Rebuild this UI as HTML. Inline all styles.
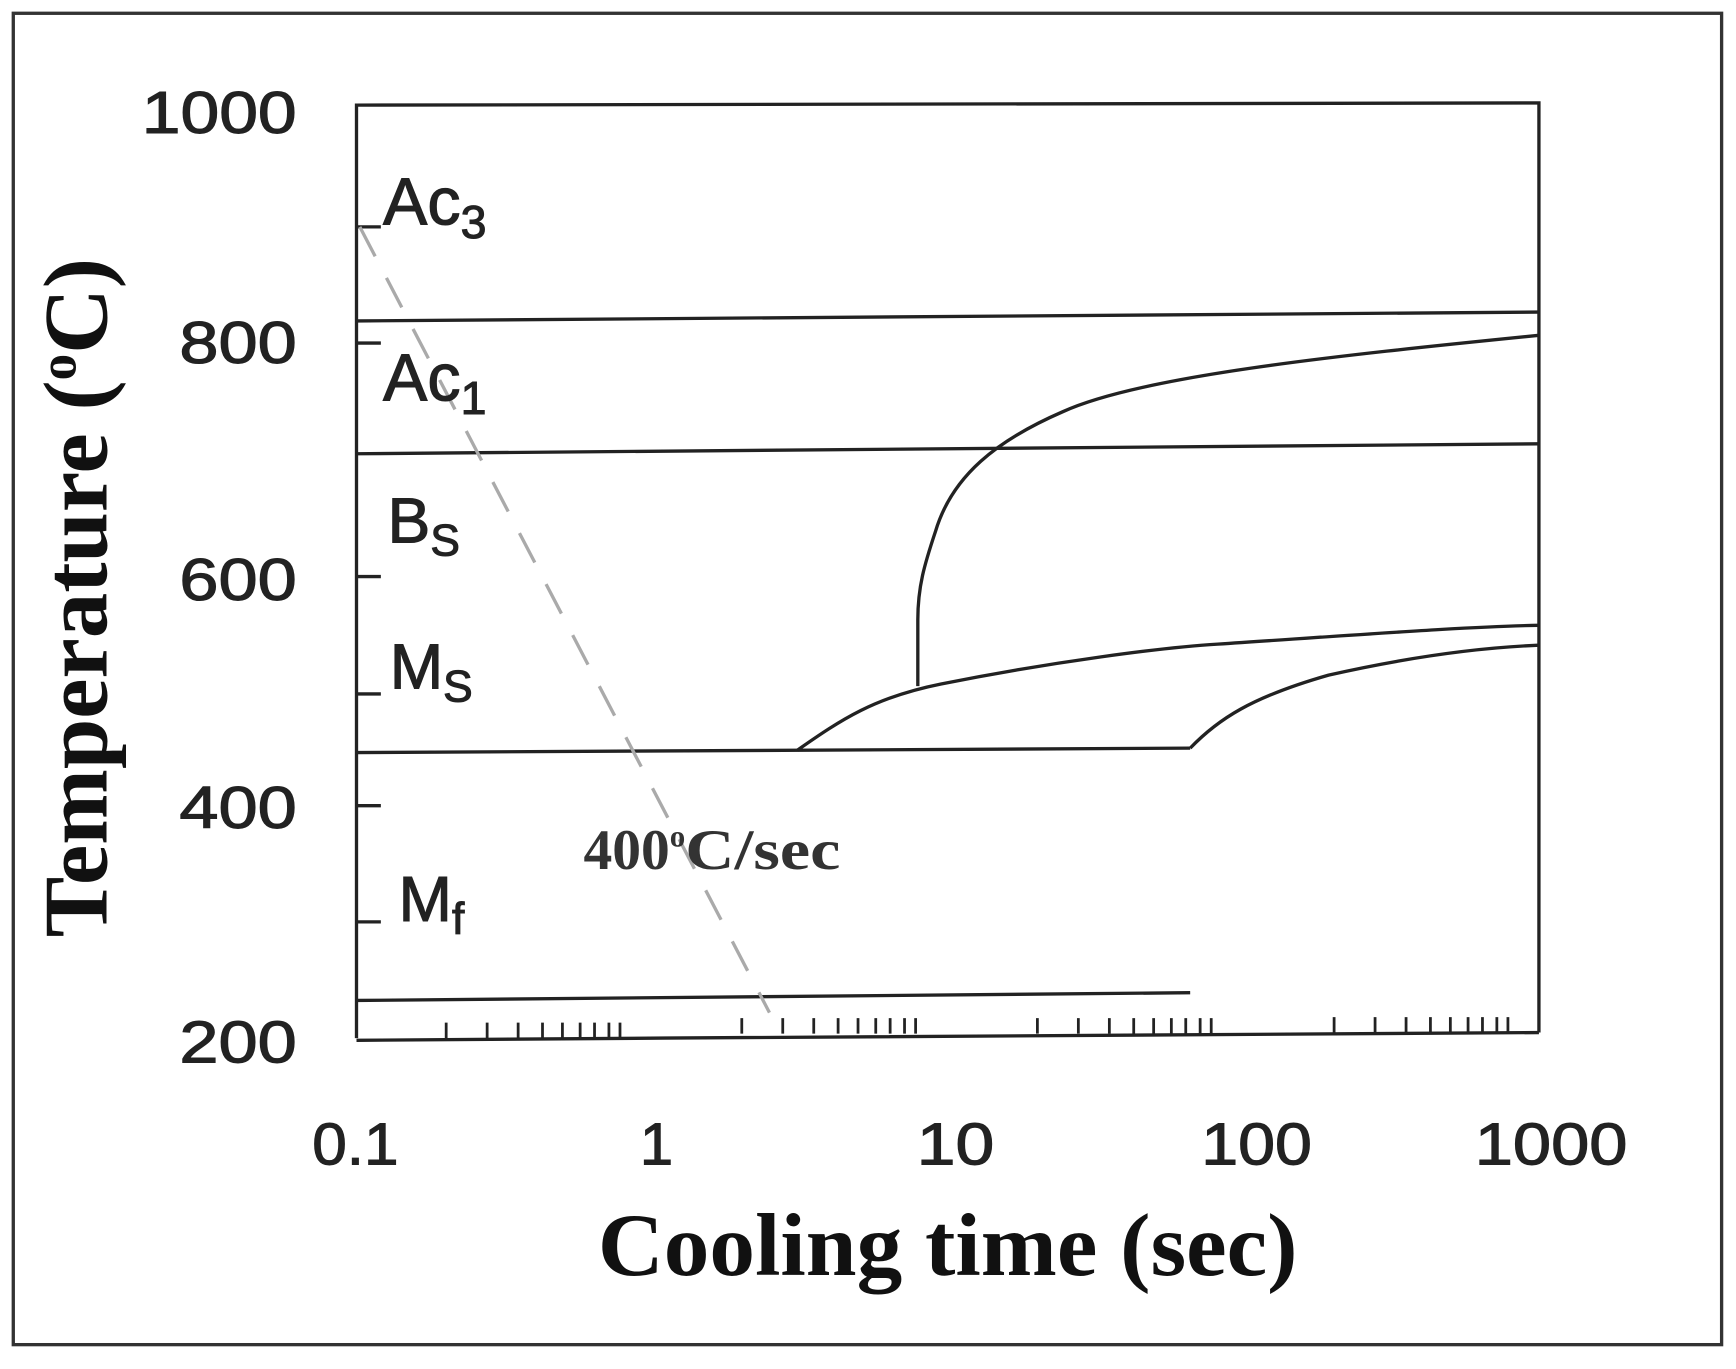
<!DOCTYPE html>
<html><head><meta charset="utf-8"><style>
html,body{margin:0;padding:0;background:#fff;width:1736px;height:1369px;overflow:hidden}
svg{display:block}
</style></head><body>
<svg width="1736" height="1369" viewBox="0 0 1568 1237" preserveAspectRatio="none" xmlns="http://www.w3.org/2000/svg">
<rect x="0" y="0" width="1568" height="1237" fill="#fff"/>
<rect x="12" y="12" width="1543" height="1203" fill="none" stroke="#333" stroke-width="3"/>
<g stroke="#222" stroke-width="3" fill="none">
<path d="M322 938 L322 95 L1390 93 L1390 933"/>
<path d="M322 940 L600 938 L1390 933"/>
<path d="M322 205h22 M322 310h22 M322 521h22 M322 627h22 M322 728h22 M322 833h22"/>
<path d="M322 290 L1390 282"/>
<path d="M322 410 L1390 401"/>
<path d="M322 680 L1075 676"/>
<path d="M322 904 L1075 897"/>
<path d="M1390 303 C1200 322 1030 340 960 372 C900 398 860 430 845 480 C835 510 829 530 829 560 L829 620"/>
<path d="M720 678 C760 650 790 630 850 618 C950 598 1050 585 1100 582 C1250 572 1330 566 1390 565"/>
<path d="M1075 676 C1100 650 1130 630 1200 610 C1280 592 1340 585 1390 583"/>
</g>
<g stroke="#222" stroke-width="2.5">
<path d="M403 938v-14 M440 938v-14 M468 938v-14 M490 938v-14 M508 938v-14 M524 938v-14 M537 938v-14 M550 938v-14 M560 938v-14 M670 934v-14 M707 934v-14 M735 934v-14 M757 934v-14 M775 934v-14 M791 934v-14 M804 934v-14 M817 934v-14 M827 934v-14 M937 934v-14 M974 934v-14 M1002 934v-14 M1024 934v-14 M1042 934v-14 M1058 934v-14 M1071 934v-14 M1084 934v-14 M1094 934v-14 M1205 933v-14 M1242 933v-14 M1270 933v-14 M1292 933v-14 M1310 933v-14 M1326 933v-14 M1339 933v-14 M1352 933v-14 M1362 933v-14"/>
</g>
<path d="M325 205 L695 915" stroke="#aaa" stroke-width="3" stroke-dasharray="30 22" fill="none"/>
<g font-family="Liberation Sans, sans-serif" fill="#222" font-size="54" stroke="#222" stroke-width="1">
<text x="128" y="120" textLength="140" lengthAdjust="spacingAndGlyphs">1000</text>
<text x="162" y="328" textLength="106" lengthAdjust="spacingAndGlyphs">800</text>
<text x="162" y="542" textLength="106" lengthAdjust="spacingAndGlyphs">600</text>
<text x="162" y="748" textLength="106" lengthAdjust="spacingAndGlyphs">400</text>
<text x="162" y="960" textLength="106" lengthAdjust="spacingAndGlyphs">200</text>
<text x="282" y="1052" textLength="78" lengthAdjust="spacingAndGlyphs">0.1</text>
<text x="578" y="1052">1</text>
<text x="828" y="1052" textLength="70" lengthAdjust="spacingAndGlyphs">10</text>
<text x="1085" y="1052" textLength="100" lengthAdjust="spacingAndGlyphs">100</text>
<text x="1332" y="1052" textLength="138" lengthAdjust="spacingAndGlyphs">1000</text>
<text x="346" y="203" font-size="60">Ac<tspan font-size="42" dy="12">3</tspan></text>
<text x="346" y="362" font-size="60">Ac<tspan font-size="42" dy="12">1</tspan></text>
<text x="350" y="490" font-size="58">B<tspan font-size="40" dy="12">S</tspan></text>
<text x="352" y="622" font-size="58">M<tspan font-size="40" dy="12">S</tspan></text>
<text x="360" y="832" font-size="58">M<tspan font-size="40" dy="12">f</tspan></text>
</g>
<g font-family="Liberation Serif, serif" font-weight="bold" fill="#111">
<text x="527" y="785" font-size="52" fill="#333">400<tspan font-size="28" dy="-20">o</tspan><tspan dy="20" textLength="140" lengthAdjust="spacingAndGlyphs">C/sec</tspan></text>
<text x="540" y="1152" font-size="80" textLength="632" lengthAdjust="spacingAndGlyphs">Cooling time (sec)</text>
<text transform="translate(96,540) rotate(-90)" text-anchor="middle" font-size="82">Temperature (<tspan font-size="48" dy="-28">o</tspan><tspan dy="28">C)</tspan></text>
</g>
</svg>
</body></html>
